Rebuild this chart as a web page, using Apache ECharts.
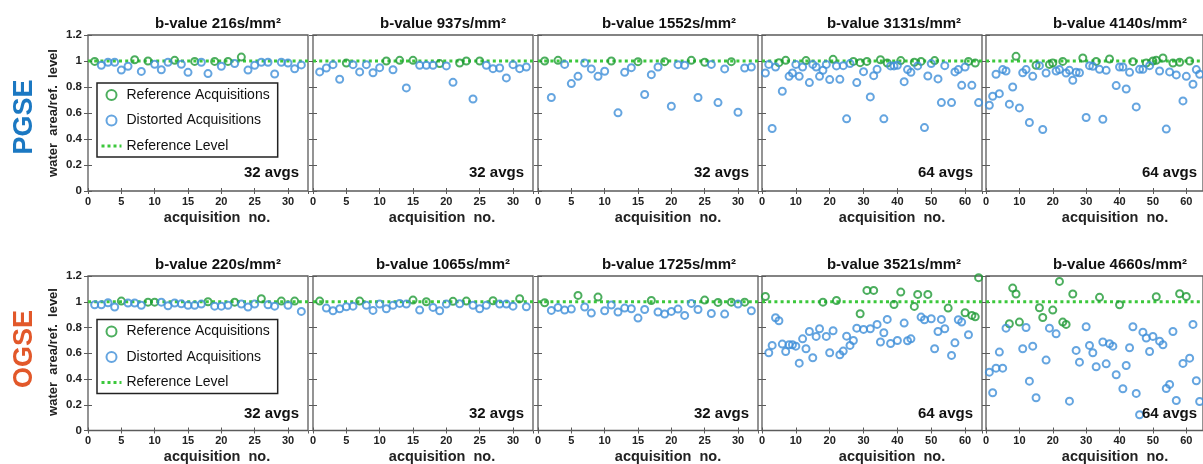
<!DOCTYPE html>
<html>
<head>
<meta charset="utf-8">
<script src="https://cdn.jsdelivr.net/npm/echarts@6/dist/echarts.min.js"></script>
<style>
html,body{margin:0;padding:0;background:#fff;}
#chart{width:1203px;height:464px;}
</style>
</head>
<body>
<div id="chart"></div>
<script>
// ---------- DATA ----------
const legendNames = ['Reference Acquisitions', 'Distorted Acquisitions', 'Reference Level'];
const rowLabels = ['PGSE', 'OGSE'];
const titlesPGSE = ['b-value 216s/mm²', 'b-value 937s/mm²', 'b-value 1552s/mm²', 'b-value 3131s/mm²', 'b-value 4140s/mm²'];
const titlesOGSE = ['b-value 220s/mm²', 'b-value 1065s/mm²', 'b-value 1725s/mm²', 'b-value 3521s/mm²', 'b-value 4660s/mm²'];
const avgLabels = ['32 avgs', '32 avgs', '32 avgs', '64 avgs', '64 avgs'];
const xMaxes = [33, 33, 33, 65, 65];
const xSteps = [5, 5, 5, 10, 10];
const refLevel = 1;

// PGSE row
const pgse216Ref = [[1,0.997],[7,1.01],[9,1.0],[13,1.005],[16,0.997],[19,0.997],[21,0.997],[23,1.03]];
const pgse216Dis = [[2,0.967],[3,0.99],[4,0.99],[5,0.93],[6,0.96],[8,0.92],[10,0.975],[11,0.933],[12,0.99],[14,0.975],[15,0.913],[17,0.99],[18,0.903],[20,0.96],[22,0.98],[24,0.93],[25,0.967],[26,0.99],[27,0.99],[28,0.90],[29,0.99],[30,0.985],[31,0.94],[32,0.97]];
const pgse937Ref = [[5,0.985],[11,1.0],[13,1.005],[15,1.005],[19,0.98],[22,0.985],[23,1.0],[25,1.0]];
const pgse937Dis = [[1,0.916],[2,0.946],[3,0.972],[4,0.86],[6,0.972],[7,0.916],[8,0.972],[9,0.91],[10,0.949],[12,0.933],[14,0.793],[16,0.967],[17,0.967],[18,0.967],[20,0.962],[21,0.836],[24,0.708],[26,0.967],[27,0.941],[28,0.946],[29,0.87],[30,0.972],[31,0.941],[32,0.954]];
const pgse1552Ref = [[1,1.0],[3,1.005],[11,1.0],[15,0.995],[19,0.995],[23,1.005],[25,0.99],[29,0.995]];
const pgse1552Dis = [[2,0.719],[4,0.974],[5,0.826],[6,0.882],[7,0.985],[8,0.939],[9,0.882],[10,0.921],[12,0.601],[13,0.913],[14,0.949],[16,0.742],[17,0.895],[18,0.954],[20,0.652],[21,0.972],[22,0.967],[24,0.719],[26,0.974],[27,0.68],[28,0.939],[30,0.606],[31,0.946],[32,0.954]];
const pgse3131Ref = [[5,0.987],[7,1.005],[13,1.003],[21,1.013],[27,0.997],[29,0.987],[31,0.997],[35,1.01],[37,0.985],[41,1.003],[45,0.99],[47,0.997],[51,1.003],[61,0.997],[63,0.985]];
const pgse3131Dis = [[1,0.908],[2,0.974],[3,0.481],[4,0.954],[6,0.767],[8,0.882],[9,0.908],[10,0.974],[11,0.882],[12,0.954],[14,0.834],[15,0.974],[16,0.954],[17,0.882],[18,0.928],[19,0.974],[20,0.857],[22,0.962],[23,0.859],[24,0.964],[25,0.555],[26,0.98],[28,0.834],[30,0.918],[32,0.724],[33,0.887],[34,0.936],[36,0.555],[38,0.962],[39,0.962],[40,0.967],[42,0.841],[43,0.934],[44,0.913],[46,0.962],[48,0.488],[49,0.885],[50,0.98],[52,0.862],[53,0.68],[54,0.964],[56,0.68],[57,0.916],[58,0.934],[59,0.813],[60,0.954],[62,0.813],[64,0.68]];
const pgse4140Ref = [[9,1.036],[15,0.967],[19,0.974],[20,0.985],[23,0.997],[29,1.023],[33,0.997],[37,1.015],[44,0.995],[48,0.985],[50,1.0],[51,1.005],[53,1.023],[56,0.985],[58,0.99],[61,1.0]];
const pgse4140Dis = [[1,0.66],[2,0.729],[3,0.898],[4,0.749],[5,0.934],[6,0.923],[7,0.668],[8,0.80],[10,0.639],[11,0.91],[12,0.934],[13,0.527],[14,0.882],[16,0.964],[17,0.473],[18,0.908],[21,0.923],[22,0.934],[24,0.908],[25,0.928],[26,0.852],[27,0.913],[28,0.91],[30,0.565],[31,0.964],[32,0.959],[34,0.936],[35,0.552],[36,0.928],[39,0.811],[40,0.954],[41,0.954],[42,0.785],[43,0.913],[45,0.647],[46,0.936],[47,0.936],[49,0.964],[52,0.923],[54,0.476],[55,0.916],[57,0.893],[59,0.693],[60,0.882],[62,0.821],[63,0.934],[64,0.898]];

// OGSE row
const ogse220Ref = [[5,1.005],[9,0.997],[10,0.997],[18,1.0],[22,0.997],[26,1.023],[29,1.005],[31,1.005]];
const ogse220Dis = [[1,0.977],[2,0.977],[3,0.992],[4,0.959],[6,0.99],[7,0.99],[8,0.972],[11,0.997],[12,0.969],[13,0.99],[14,0.984],[15,0.972],[16,0.972],[17,0.982],[19,0.966],[20,0.966],[21,0.972],[23,0.982],[24,0.959],[25,0.982],[27,0.977],[28,0.966],[30,0.972],[32,0.925]];
const ogse1065Ref = [[1,1.005],[7,1.005],[15,1.013],[17,1.0],[21,1.003],[23,1.005],[27,1.008],[31,1.023]];
const ogse1065Dis = [[2,0.951],[3,0.93],[4,0.946],[5,0.961],[6,0.966],[8,0.972],[9,0.933],[10,0.982],[11,0.946],[12,0.972],[13,0.987],[14,0.982],[16,0.935],[18,0.956],[19,0.93],[20,0.982],[22,0.984],[24,0.972],[25,0.946],[26,0.972],[28,0.982],[29,0.982],[30,0.966],[32,0.961]];
const ogse1725Ref = [[1,0.992],[6,1.049],[9,1.036],[17,1.01],[25,1.013],[27,0.995],[29,0.997],[31,0.997]];
const ogse1725Dis = [[2,0.933],[3,0.956],[4,0.935],[5,0.943],[7,0.959],[8,0.912],[10,0.93],[11,0.974],[12,0.92],[13,0.951],[14,0.946],[15,0.873],[16,0.94],[18,0.92],[19,0.904],[20,0.925],[21,0.943],[22,0.894],[23,0.987],[24,0.94],[26,0.909],[28,0.904],[30,0.982],[32,0.93]];
const ogse3521Ref = [[1,1.041],[18,0.997],[22,1.01],[29,0.907],[31,1.088],[33,1.088],[39,0.979],[41,1.075],[45,0.964],[46,1.057],[49,1.057],[55,0.951],[60,0.915],[62,0.894],[63,0.883],[64,1.187]];
const ogse3521Dis = [[2,0.604],[3,0.661],[4,0.876],[5,0.852],[6,0.671],[7,0.614],[8,0.666],[9,0.666],[10,0.655],[11,0.523],[12,0.712],[13,0.635],[14,0.769],[15,0.565],[16,0.731],[17,0.79],[19,0.731],[20,0.604],[21,0.775],[23,0.588],[24,0.617],[25,0.733],[26,0.661],[27,0.699],[28,0.795],[30,0.785],[32,0.79],[34,0.824],[35,0.687],[36,0.759],[37,0.863],[38,0.676],[40,0.699],[42,0.834],[43,0.697],[44,0.712],[47,0.881],[48,0.86],[50,0.868],[51,0.635],[52,0.769],[53,0.863],[54,0.79],[56,0.583],[57,0.681],[58,0.86],[59,0.842],[61,0.744]];
const ogse4660Ref = [[7,0.829],[8,1.106],[9,1.06],[10,0.842],[16,0.953],[17,0.878],[20,0.935],[22,1.158],[23,0.842],[24,0.824],[26,1.06],[34,1.034],[40,0.977],[51,1.039],[58,1.062],[60,1.041]];
const ogse4660Dis = [[1,0.453],[2,0.293],[3,0.484],[4,0.609],[5,0.484],[6,0.795],[11,0.635],[12,0.80],[13,0.383],[14,0.655],[15,0.254],[18,0.547],[19,0.795],[21,0.751],[25,0.228],[27,0.622],[28,0.531],[30,0.806],[31,0.661],[32,0.604],[33,0.495],[35,0.687],[36,0.518],[37,0.674],[38,0.655],[39,0.433],[41,0.324],[42,0.505],[43,0.643],[44,0.806],[45,0.288],[46,0.122],[47,0.764],[48,0.718],[49,0.614],[50,0.731],[52,0.694],[53,0.666],[54,0.326],[55,0.358],[56,0.769],[57,0.233],[59,0.521],[61,0.562],[62,0.824],[63,0.386],[64,0.225]];

const refSets = [[pgse216Ref, pgse937Ref, pgse1552Ref, pgse3131Ref, pgse4140Ref],
                 [ogse220Ref, ogse1065Ref, ogse1725Ref, ogse3521Ref, ogse4660Ref]];
const disSets = [[pgse216Dis, pgse937Dis, pgse1552Dis, pgse3131Dis, pgse4140Dis],
                 [ogse220Dis, ogse1065Dis, ogse1725Dis, ogse3521Dis, ogse4660Dis]];
const titleSets = [titlesPGSE, titlesOGSE];

// ---------- LAYOUT ----------
const FONT = '"Liberation Sans", Arial, sans-serif';
const gridLefts = [88, 313, 538, 762, 986];
const gridWidth = 220;
const gridTops = [35, 276];
const gridHeights = [156, 154.5];
const titleX = [218, 443, 669, 894, 1120];
const xNameX = [217, 442, 668, 892, 1115];
const titleY = [24, 264.5];
const xNameY = [218, 457];
const avgsY = [173, 414];
const yNameY = [113, 352];
const rowLabelY = [117, 349];
const rowColors = ['#1b78c2', '#e2582a'];
const GREEN = '#1f9a36', BLUE = '#3e8fd8', DOT = '#3cc83c', AXIS = '#5b5b5b';

const grid = [], xAxis = [], yAxis = [], series = [], graphic = [];
let gi = 0;
for (let r = 0; r < 2; r++) {
  for (let c = 0; c < 5; c++) {
    grid.push({left: gridLefts[c], top: gridTops[r], width: gridWidth, height: gridHeights[r],
      show: true, borderColor: AXIS, borderWidth: 1.3, backgroundColor: '#fff'});
    const xa = {gridIndex: gi, type: 'value', min: 0, max: xMaxes[c], interval: xSteps[c],
      axisLine: {show: false}, splitLine: {show: false},
      axisTick: {show: true, inside: true, length: 3, lineStyle: {color: AXIS}}};
    xAxis.push(Object.assign({}, xa, {position: 'bottom',
      axisLabel: {show: true, showMaxLabel: false, margin: 5, fontSize: 11, fontWeight: 'bold', color: '#222', fontFamily: FONT}}));
    xAxis.push(Object.assign({}, xa, {position: 'top', axisLabel: {show: false}}));
    const ya = {gridIndex: gi, type: 'value', min: 0, max: 1.2, interval: 0.2,
      axisLine: {show: false}, splitLine: {show: false},
      axisTick: {show: true, inside: true, length: 4, lineStyle: {color: AXIS}}};
    yAxis.push(Object.assign({}, ya, {position: 'left',
      axisLabel: {show: c === 0, margin: 6, fontSize: 11.5, fontWeight: 'bold', color: '#222', fontFamily: FONT}}));
    yAxis.push(Object.assign({}, ya, {position: 'right', axisLabel: {show: false}}));
    const xi = gi * 2, yi = gi * 2;
    series.push({type: 'line', name: legendNames[2], xAxisIndex: xi, yAxisIndex: yi,
      data: [[0, refLevel], [xMaxes[c], refLevel]], symbol: 'none', silent: true, z: 1,
      lineStyle: {color: DOT, width: 3, type: [3, 3.2]}, itemStyle: {color: DOT}});
    series.push({type: 'scatter', name: legendNames[0], xAxisIndex: xi, yAxisIndex: yi,
      data: refSets[r][c], symbol: 'circle', symbolSize: 7, z: 2,
      itemStyle: {color: 'rgba(255,255,255,0)', borderColor: GREEN, borderWidth: 2}});
    series.push({type: 'scatter', name: legendNames[1], xAxisIndex: xi, yAxisIndex: yi,
      data: disSets[r][c], symbol: 'circle', symbolSize: 7, z: 3,
      itemStyle: {color: 'rgba(255,255,255,0)', borderColor: BLUE, borderWidth: 2}});
    // texts
    graphic.push({type: 'text', z: 100, style: {text: titleSets[r][c], x: titleX[c], y: titleY[r],
      align: 'center', verticalAlign: 'middle', font: 'bold 15px ' + FONT, fill: '#111'}});
    graphic.push({type: 'text', z: 100, style: {text: 'acquisition  no.', x: xNameX[c], y: xNameY[r],
      align: 'center', verticalAlign: 'middle', font: 'bold 14.5px ' + FONT, fill: '#222'}});
    graphic.push({type: 'text', z: 100, style: {text: avgLabels[c], x: gridLefts[c] + gridWidth - 9, y: avgsY[r],
      align: 'right', verticalAlign: 'middle', font: 'bold 15px ' + FONT, fill: '#111'}});
    gi++;
  }
  graphic.push({type: 'text', z: 100, x: 53, y: yNameY[r], rotation: Math.PI / 2,
    style: {text: 'water  area/ref.  level', x: 0, y: 0, align: 'center', verticalAlign: 'middle',
      font: 'bold 13px ' + FONT, fill: '#222'}});
  graphic.push({type: 'text', z: 100, x: 25, y: rowLabelY[r], rotation: Math.PI / 2,
    style: {text: rowLabels[r], x: 0, y: 0, align: 'center', verticalAlign: 'middle',
      font: 'bold 27px ' + FONT, fill: rowColors[r]}});
}

const legendData = [
  {name: legendNames[0]},
  {name: legendNames[1]},
  {name: legendNames[2], itemStyle: {opacity: 0}, lineStyle: {width: 3, color: DOT, type: [3, 3]}}
];
const legend = [83, 319.5].map(t => ({
  data: legendData, orient: 'vertical', left: 97, top: t, selectedMode: false,
  itemWidth: 20, itemHeight: 10, itemGap: 11.5,
  padding: [5, 8, 4, 3], borderColor: '#222', borderWidth: 1.5, backgroundColor: '#fff',
  textStyle: {fontSize: 14, color: '#111', fontFamily: FONT}, z: 50
}));

const chart = echarts.init(document.getElementById('chart'), null, {renderer: 'canvas'});
chart.setOption({
  animation: false,
  backgroundColor: '#fff',
  grid, xAxis, yAxis, series, legend, graphic
});
</script>
</body>
</html>
